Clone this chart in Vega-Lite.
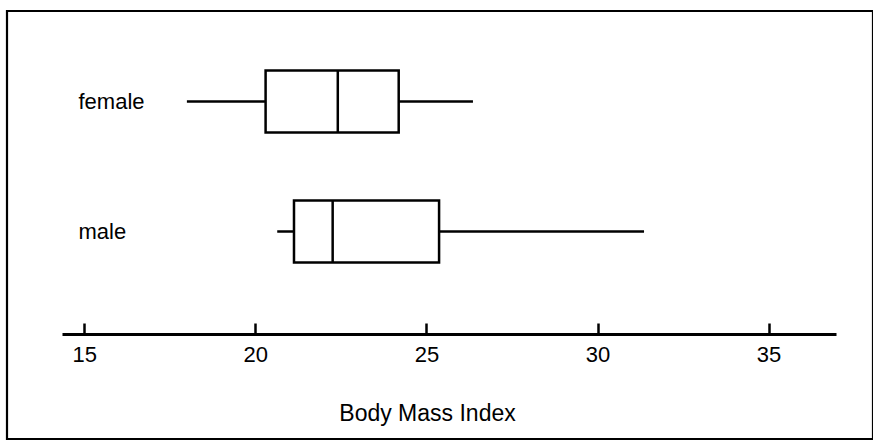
{
  "$schema": "https://vega.github.io/schema/vega-lite/v6.json",
  "autosize": {"type": "none"},
  "width": 866,
  "height": 428,
  "padding": {"left": 7, "top": 11, "right": 0, "bottom": 1},
  "background": "white",
  "config": {
    "view": {"stroke": "black", "strokeWidth": 2.2, "fill": "white"},
    "font": "Liberation Sans"
  },
  "data": {
    "values": [
      {"sex": "female", "min": 18.0, "q1": 20.3, "median": 22.41, "q3": 24.19, "max": 26.36},
      {"sex": "male", "min": 20.64, "q1": 21.13, "median": 22.26, "q3": 25.37, "max": 31.36}
    ]
  },
  "encoding": {
    "y": {
      "field": "sex",
      "type": "nominal",
      "sort": ["female", "male"],
      "scale": {"type": "point", "range": [90.5, 220.5], "padding": 0},
      "axis": {
        "orient": "left",
        "offset": -71,
        "title": null,
        "domain": false,
        "ticks": false,
        "grid": false,
        "labelAlign": "left",
        "labelBaseline": "middle",
        "labelPadding": 0,
        "labelFontSize": 22,
        "labelColor": "black",
        "labelFont": "Liberation Sans"
      }
    }
  },
  "layer": [
    {
      "mark": {"type": "rule", "color": "black", "strokeWidth": 2.5},
      "encoding": {
        "x": {
          "field": "min",
          "type": "quantitative",
          "scale": {"domain": [14.35, 36.97], "range": [55, 829], "nice": false, "zero": false},
          "axis": {
            "title": "Body Mass Index",
            "values": [15, 20, 25, 30, 35],
            "offset": -105,
            "grid": false,
            "domainColor": "black",
            "domainWidth": 2.8,
            "tickColor": "black",
            "tickWidth": 2.5,
            "tickSize": -11,
            "labelFontSize": 22,
            "labelColor": "black",
            "labelFont": "Liberation Sans",
            "labelPadding": 21,
            "titleFontSize": 23,
            "titleFontWeight": "normal",
            "titleColor": "black",
            "titleFont": "Liberation Sans",
            "titleBaseline": "alphabetic",
            "titleX": 420,
            "titleY": 86
          }
        },
        "x2": {"field": "q1"}
      }
    },
    {
      "mark": {"type": "rule", "color": "black", "strokeWidth": 2.5},
      "encoding": {
        "x": {"field": "q3", "type": "quantitative"},
        "x2": {"field": "max"}
      }
    },
    {
      "mark": {"type": "bar", "fill": "white", "stroke": "black", "strokeWidth": 2.5, "size": 62},
      "encoding": {
        "x": {"field": "q1", "type": "quantitative"},
        "x2": {"field": "q3"}
      }
    },
    {
      "mark": {"type": "tick", "color": "black", "opacity": 1, "thickness": 2.5, "size": 62},
      "encoding": {
        "x": {"field": "median", "type": "quantitative"}
      }
    }
  ]
}
